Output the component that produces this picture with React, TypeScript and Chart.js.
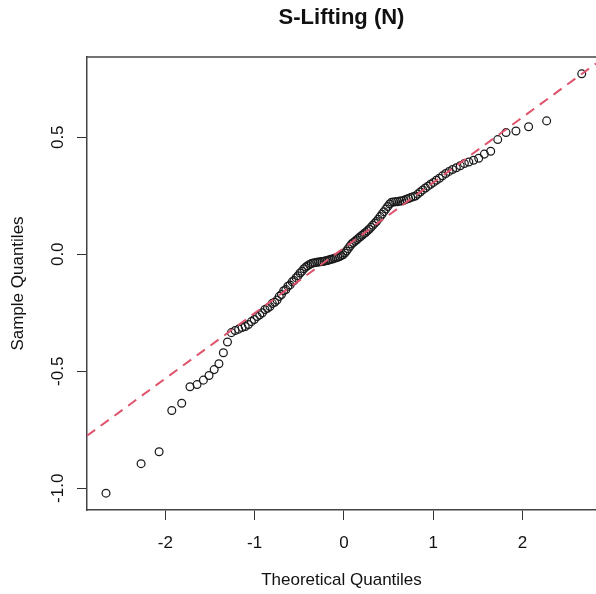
import React, { useEffect, useRef } from "react";
import { Chart, registerables } from "chart.js";

Chart.register(...registerables);

// Theoretical normal quantiles (x) for the 130 sorted observations
const theoreticalQuantiles = [
  -2.665, -2.272, -2.070, -1.928, -1.817, -1.724, -1.645, -1.574, -1.511, -1.453,
  -1.400, -1.350, -1.304, -1.260, -1.218, -1.179, -1.141, -1.105, -1.070, -1.036,
  -1.004, -0.972, -0.942, -0.913, -0.884, -0.856, -0.828, -0.802, -0.775, -0.749,
  -0.724, -0.699, -0.674, -0.650, -0.627, -0.603, -0.580, -0.558, -0.535, -0.513,
  -0.491, -0.470, -0.448, -0.427, -0.406, -0.385, -0.365, -0.344, -0.324, -0.303,
  -0.283, -0.263, -0.243, -0.223, -0.204, -0.184, -0.165, -0.145, -0.126, -0.106,
  -0.087, -0.068, -0.048, -0.029, -0.010,
  0.010, 0.029, 0.048, 0.068, 0.087, 0.106, 0.126, 0.145, 0.165, 0.184,
  0.204, 0.223, 0.243, 0.263, 0.283, 0.303, 0.324, 0.344, 0.365, 0.385,
  0.406, 0.427, 0.448, 0.470, 0.491, 0.513, 0.535, 0.558, 0.580, 0.603,
  0.627, 0.650, 0.674, 0.699, 0.724, 0.749, 0.775, 0.802, 0.828, 0.856,
  0.884, 0.913, 0.942, 0.972, 1.004, 1.036, 1.070, 1.105, 1.141, 1.179,
  1.218, 1.260, 1.304, 1.350, 1.400, 1.453, 1.511, 1.574, 1.645, 1.724,
  1.817, 1.928, 2.070, 2.272, 2.665,
];

// Sorted sample values (y)
const sampleQuantiles = [
  -1.021, -0.895, -0.844, -0.668, -0.637, -0.566, -0.557, -0.538, -0.518, -0.493,
  -0.468, -0.421, -0.375, -0.335, -0.326, -0.320, -0.313, -0.309, -0.300, -0.288,
  -0.279, -0.266, -0.259, -0.250, -0.236, -0.231, -0.223, -0.210, -0.205, -0.196,
  -0.180, -0.172, -0.156, -0.151, -0.137, -0.131, -0.118, -0.112, -0.100, -0.092,
  -0.080, -0.073, -0.062, -0.055, -0.049, -0.044, -0.040, -0.037, -0.036, -0.034,
  -0.033, -0.032, -0.031, -0.030, -0.028, -0.027, -0.024, -0.022, -0.020, -0.017,
  -0.015, -0.013, -0.010, -0.006, -0.002, 0.005, 0.014, 0.024, 0.034, 0.044,
  0.050, 0.056, 0.062, 0.069, 0.075, 0.081, 0.087, 0.093, 0.100, 0.107,
  0.115, 0.124, 0.132, 0.140, 0.150, 0.161, 0.171, 0.182, 0.193, 0.204,
  0.215, 0.222, 0.223, 0.224, 0.225, 0.227, 0.228, 0.231, 0.235, 0.238,
  0.242, 0.246, 0.249, 0.257, 0.266, 0.275, 0.283, 0.291, 0.299, 0.307,
  0.316, 0.325, 0.335, 0.345, 0.354, 0.362, 0.370, 0.378, 0.388, 0.394,
  0.402, 0.410, 0.428, 0.440, 0.490, 0.520, 0.527, 0.545, 0.570, 0.771,
];

const xTickValues = [-2, -1, 0, 1, 2];
const xTickLabels = ["-2", "-1", "0", "1", "2"];
const yTickValues = [-1, -0.5, 0, 0.5];
const yTickLabels = ["-1.0", "-0.5", "0.0", "0.5"];
const xLimits = [-2.878, 2.825];
const yLimits = [-1.093, 0.843];
const qqLineIntercept = 0.027;
const qqLineSlope = 0.279;

const FONT = "'Liberation Sans', Arial, Helvetica, sans-serif";
const TEXT = "#111";
const FS = 17;

export default function App() {
  const ref = useRef<HTMLCanvasElement>(null);

  useEffect(() => {
    document.body.style.margin = "0";
    const canvas = ref.current;
    if (!canvas) return;

    const topBorder = {
      id: "topBorder",
      afterDatasetsDraw(chart: any) {
        const { ctx, chartArea } = chart;
        ctx.save();
        ctx.strokeStyle = "#444";
        ctx.lineWidth = 1.5;
        ctx.beginPath();
        ctx.moveTo(chartArea.left, chartArea.top);
        ctx.lineTo(chartArea.right, chartArea.top);
        ctx.stroke();
        ctx.restore();
      },
    };

    const chart = new Chart(canvas, {
      type: "scatter",
      data: {
        datasets: [
          {
            type: "line",
            label: "qqline",
            data: xLimits.map((x) => ({ x, y: qqLineIntercept + qqLineSlope * x })),
            borderColor: "#DF536B",
            borderWidth: 2,
            borderDash: [10, 7],
            pointRadius: 0,
            fill: false,
          } as any,
          {
            type: "scatter",
            label: "sample",
            data: theoreticalQuantiles.map((x, i) => ({ x, y: sampleQuantiles[i] })),
            pointRadius: 3.9,
            pointHoverRadius: 3.9,
            borderColor: "#1a1a1a",
            borderWidth: 1.25,
            backgroundColor: "rgba(0,0,0,0)",
          },
        ],
      },
      options: {
        animation: false,
        responsive: false,
        events: [],
        layout: { padding: 0, autoPadding: false },
        plugins: {
          legend: { display: false },
          tooltip: { enabled: false },
          title: {
            display: true,
            text: "S-Lifting (N)",
            fullSize: false,
            color: TEXT,
            font: { family: FONT, size: 22, weight: "bold" },
            padding: { top: 4.8, bottom: 25.8 },
          },
        },
        scales: {
          x: {
            type: "linear",
            min: xLimits[0],
            max: xLimits[1],
            afterBuildTicks: (s: any) => {
              s.ticks = xTickValues.map((v) => ({ value: v }));
            },
            afterFit: (s: any) => {
              s.height = 84;
              s.paddingLeft = 0;
              s.paddingRight = 0;
            },
            ticks: {
              callback: (_v: any, i: number) => xTickLabels[i],
              color: TEXT,
              font: { family: FONT, size: FS },
              padding: 12.8,
              maxRotation: 0,
              autoSkip: false,
            },
            grid: {
              display: true,
              drawOnChartArea: false,
              drawTicks: true,
              tickLength: 10,
              color: "#333",
              lineWidth: 1,
            },
            border: { display: true, color: "#444", width: 1.5 },
            title: {
              display: true,
              text: "Theoretical Quantiles",
              color: TEXT,
              font: { family: FONT, size: FS },
              padding: { top: 0, bottom: 3.8 },
            },
          },
          y: {
            type: "linear",
            min: yLimits[0],
            max: yLimits[1],
            afterBuildTicks: (s: any) => {
              s.ticks = yTickValues.map((v) => ({ value: v }));
            },
            afterFit: (s: any) => {
              s.width = 87;
              s.paddingTop = 0;
              s.paddingBottom = 0;
            },
            ticks: {
              callback: (_v: any, i: number) => yTickLabels[i],
              color: TEXT,
              font: { family: FONT, size: FS },
              padding: 4.4,
              minRotation: 90,
              maxRotation: 90,
              crossAlign: "center",
              autoSkip: false,
            },
            grid: {
              display: true,
              drawOnChartArea: false,
              drawTicks: true,
              tickLength: 10,
              color: "#333",
              lineWidth: 1,
            },
            border: { display: true, color: "#444", width: 1.5 },
            title: {
              display: true,
              text: "Sample Quantiles",
              color: TEXT,
              font: { family: FONT, size: FS },
              padding: { top: 7.8, bottom: 0 },
            },
          },
        },
      } as any,
      plugins: [topBorder],
    });

    return () => chart.destroy();
  }, []);

  return (
    <canvas
      ref={ref}
      width={596}
      height={594}
      style={{ display: "block", width: 596, height: 594 }}
    />
  );
}
